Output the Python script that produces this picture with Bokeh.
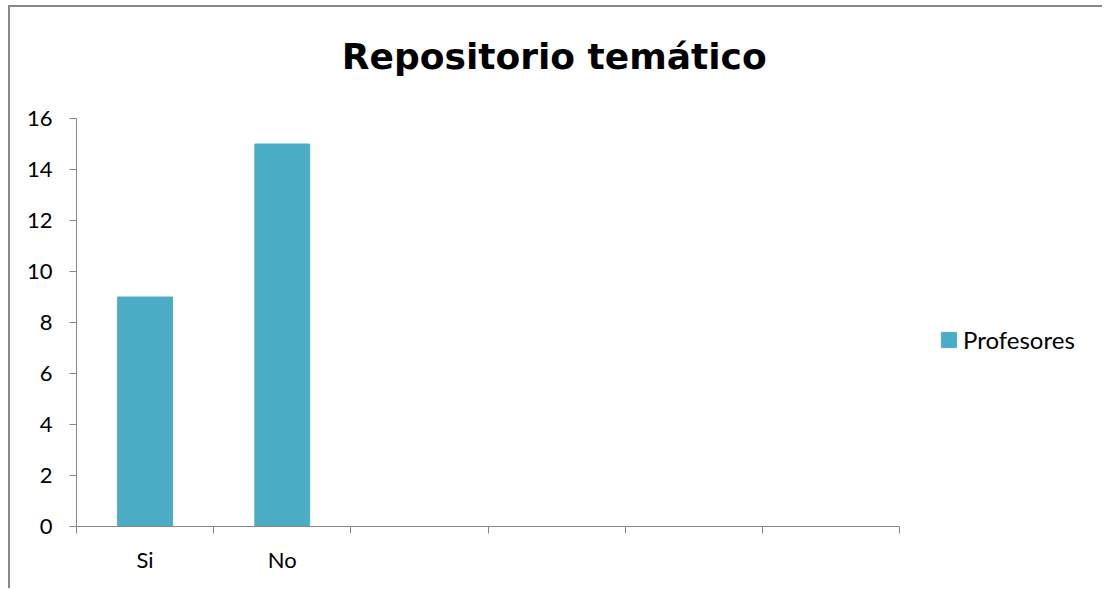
import numpy as np
from bokeh.plotting import figure
from bokeh.models import (FixedTicker, Legend, LegendItem, Range1d, Label,
                          ColumnDataSource)
from bokeh.embed import file_html
from bokeh.resources import INLINE

# ---- data ----
title_text = "Repositorio  temático"
series_name = "Profesores"
categories = ["Si", "No", "", "", "", ""]
values = [9, 15, np.nan, np.nan, np.nan, np.nan]
y_ticks = [0, 2, 4, 6, 8, 10, 12, 14, 16]

BAR = "#4BACC6"
AXIS = "#868686"
FONT = "Lato"

# ---- layout (pixels) ----
W, H = 1094, 583
LEFT, BOTTOM = 66, 64
CAT_W = 823          # pixel width of the category area
VAL_H = 408          # pixel height of the value area
FRAME_W = W - LEFT
FRAME_H = H - BOTTOM

n = len(categories)
ymax = max(y_ticks)
centers = np.arange(n) + 0.5
src = ColumnDataSource(dict(x=centers, top=values, cat=categories))

p = figure(width=W, height=H, output_backend="svg", toolbar_location=None,
           x_range=Range1d(0, n * FRAME_W / CAT_W),
           y_range=Range1d(0, ymax * FRAME_H / VAL_H),
           min_border_left=LEFT, min_border_right=0, min_border_top=0,
           min_border_bottom=BOTTOM)
p.styles = {"border-left": "2px solid #878787", "border-top": "2px solid #878787",
            "margin-top": "5px", "margin-left": "8px"}

r = p.vbar(x="x", top="top", width=0.4, source=src, color=BAR)

p.outline_line_color = None
p.grid.grid_line_color = None

# y axis
p.yaxis.bounds = (0, ymax)
p.yaxis.ticker = FixedTicker(ticks=y_ticks, minor_ticks=[])
p.yaxis.axis_line_color = AXIS
p.yaxis.major_tick_line_color = AXIS
p.yaxis.major_tick_in = 0
p.yaxis.major_tick_out = 7
p.yaxis.minor_tick_line_color = None
p.yaxis.major_label_text_font = FONT
p.yaxis.major_label_text_font_size = "22px"
p.yaxis.major_label_text_color = "black"
p.yaxis.major_label_standoff = 17

# x axis: labels at centers, tick marks at boundaries
p.xaxis.bounds = (0, n)
p.xaxis.ticker = FixedTicker(ticks=list(centers[:2]), minor_ticks=list(range(n + 1)))
p.xaxis.major_label_overrides = {float(c): lab for c, lab in zip(centers, categories) if lab}
p.xaxis.axis_line_color = AXIS
p.xaxis.major_tick_line_color = None
p.xaxis.minor_tick_line_color = AXIS
p.xaxis.minor_tick_in = 0
p.xaxis.minor_tick_out = 7
p.xaxis.major_label_text_font = FONT
p.xaxis.major_label_text_font_size = "22px"
p.xaxis.major_label_text_color = "black"
p.xaxis.major_label_standoff = 12

# title
title = Label(x=484, y=470, x_units="screen", y_units="screen", text=title_text,
              text_font="DejaVu Sans", text_font_size="36px", text_font_style="bold",
              text_color="black", text_align="center", text_baseline="alphabetic")
p.add_layout(title)

legend = Legend(items=[LegendItem(label=series_name, renderers=[r])],
                location=(863, 172), padding=0, margin=0, border_line_color=None,
                background_fill_alpha=0, glyph_width=19, glyph_height=19,
                label_height=15, label_standoff=5, label_text_font=FONT,
                label_text_font_size="24px", label_text_color="black")
p.add_layout(legend, "center")

open("out.html", "w").write(file_html(p, INLINE))
